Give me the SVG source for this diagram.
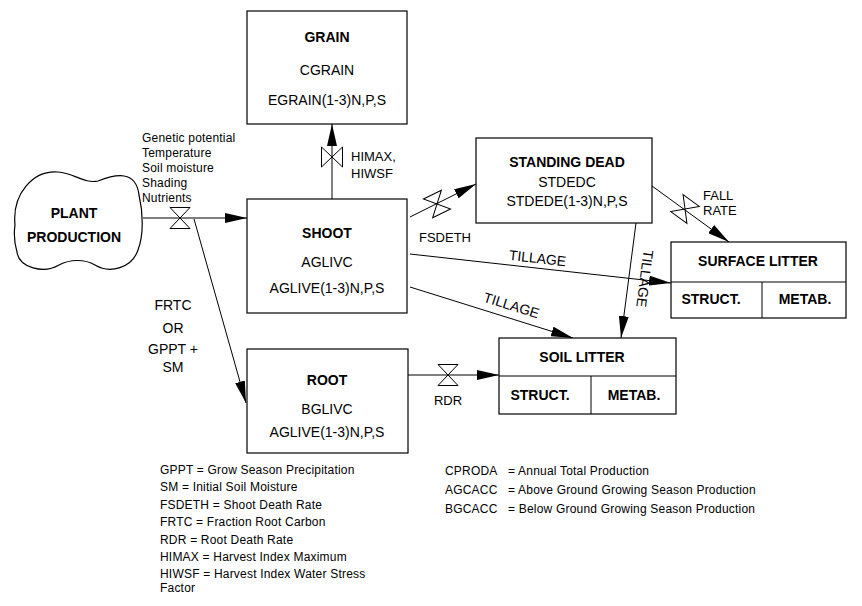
<svg xmlns="http://www.w3.org/2000/svg" width="862" height="606" viewBox="0 0 862 606">
<style>
text{font-family:"Liberation Sans",Arial,sans-serif;fill:#000}
.box{fill:#fff;stroke:#000;stroke-width:1.2}
.t{font-size:14px;font-weight:bold;text-anchor:middle}
.v{font-size:14px;text-anchor:middle}
.lbl{font-size:13px}
.leg{font-size:12px;letter-spacing:0.2px}
.c{fill:none;stroke:#000;stroke-width:1}
.valve{fill:none;stroke:#000;stroke-width:1}
</style>
<defs>
<marker id="ah" viewBox="0 0 22 10" refX="22" refY="5" markerWidth="22" markerHeight="10" orient="auto" markerUnits="userSpaceOnUse"><path d="M0,0 L22,5 L0,10 Z" fill="#000"/></marker>
<path id="valve" d="M-10,-10.5 H10 L-10,10.5 H10 Z"/>
</defs>

<g id="connectors">
<line class="c" x1="143" y1="218" x2="247" y2="218" marker-end="url(#ah)"/>
<line class="c" x1="194" y1="219" x2="246" y2="403" marker-end="url(#ah)"/>
<line class="c" x1="332" y1="199" x2="332" y2="124" marker-end="url(#ah)"/>
<line class="c" x1="410" y1="217" x2="476" y2="184" marker-end="url(#ah)"/>
<line class="c" x1="652" y1="186" x2="729" y2="242" marker-end="url(#ah)"/>
<line class="c" x1="410" y1="254" x2="671" y2="283" marker-end="url(#ah)"/>
<line class="c" x1="410" y1="287" x2="573" y2="338" marker-end="url(#ah)"/>
<line class="c" x1="636" y1="223" x2="621" y2="338" marker-end="url(#ah)"/>
<line class="c" x1="408" y1="375" x2="499" y2="375" marker-end="url(#ah)"/>
<use href="#valve" class="valve" transform="translate(180,218)"/>
<use href="#valve" class="valve" transform="translate(332,157) rotate(90)"/>
<use href="#valve" class="valve" transform="translate(437,204) rotate(-26)"/>
<use href="#valve" class="valve" transform="translate(685,209) rotate(36)"/>
<use href="#valve" class="valve" transform="translate(448,375)"/>
<text class="leg" x="142" y="142">Genetic potential</text>
<text class="leg" x="142" y="157">Temperature</text>
<text class="leg" x="142" y="172">Soil moisture</text>
<text class="leg" x="142" y="187">Shading</text>
<text class="leg" x="142" y="202">Nutrients</text>
<text class="v" x="173" y="310">FRTC</text>
<text class="v" x="173" y="333">OR</text>
<text class="v" x="173" y="354">GPPT +</text>
<text class="v" x="173" y="372">SM</text>
<text class="lbl" x="351" y="161">HIMAX,</text>
<text class="lbl" x="351" y="178">HIWSF</text>
<text class="lbl" x="419" y="242">FSDETH</text>
<text class="lbl" x="703" y="200">FALL</text>
<text class="lbl" x="703" y="215">RATE</text>
<text class="lbl" x="448" y="405" text-anchor="middle">RDR</text>
<text class="v" transform="translate(537,263) rotate(6.4)">TILLAGE</text>
<text class="v" transform="translate(510,310) rotate(17.4)">TILLAGE</text>
<text class="v" transform="translate(640,278) rotate(97.4)">TILLAGE</text>
</g>

<g id="plant-production">
<path class="box" d="M15,225 C12,194 33,170 58,172 C74,173 84,184 98,181 C116,174 136,170 139,195 C143,212 144,234 138,250 C132,268 110,274 95,265 C85,259 70,259 59,265 C44,274 19,268 17,252 C14,242 14,232 15,225 Z"/>
<text class="t" x="74" y="218">PLANT</text>
<text class="t" x="74" y="242">PRODUCTION</text>
</g>

<g id="grain">
<rect class="box" x="247" y="11" width="160" height="113"/>
<text class="t" x="327" y="42">GRAIN</text>
<text class="v" x="327" y="75">CGRAIN</text>
<text class="v" x="327" y="105">EGRAIN(1-3)N,P,S</text>
</g>

<g id="shoot">
<rect class="box" x="247" y="199" width="160" height="114"/>
<text class="t" x="327" y="238">SHOOT</text>
<text class="v" x="327" y="267">AGLIVC</text>
<text class="v" x="327" y="293">AGLIVE(1-3)N,P,S</text>
</g>

<g id="root">
<rect class="box" x="247" y="349" width="161" height="104"/>
<text class="t" x="327" y="385">ROOT</text>
<text class="v" x="327" y="414">BGLIVC</text>
<text class="v" x="327" y="437">AGLIVE(1-3)N,P,S</text>
</g>

<g id="standing-dead">
<rect class="box" x="476" y="138" width="176" height="85"/>
<text class="t" x="567" y="167">STANDING DEAD</text>
<text class="v" x="567" y="187">STDEDC</text>
<text class="v" x="567" y="206">STDEDE(1-3)N,P,S</text>
</g>

<g id="surface-litter">
<rect class="box" x="671" y="242" width="175" height="76"/>
<line class="c" x1="671" y1="282" x2="846" y2="282"/>
<line class="c" x1="762" y1="282" x2="762" y2="318"/>
<text class="t" x="758" y="266">SURFACE LITTER</text>
<text class="t" x="711" y="304">STRUCT.</text>
<text class="t" x="805" y="304">METAB.</text>
</g>

<g id="soil-litter">
<rect class="box" x="499" y="338" width="177" height="76"/>
<line class="c" x1="499" y1="376" x2="676" y2="376"/>
<line class="c" x1="591" y1="376" x2="591" y2="414"/>
<text class="t" x="582" y="362">SOIL LITTER</text>
<text class="t" x="540" y="400">STRUCT.</text>
<text class="t" x="634" y="400">METAB.</text>
</g>

<g id="legend-left">
<text class="leg" x="160" y="474">GPPT = Grow Season Precipitation</text>
<text class="leg" x="160" y="491">SM = Initial Soil Moisture</text>
<text class="leg" x="160" y="509">FSDETH = Shoot Death Rate</text>
<text class="leg" x="160" y="526">FRTC = Fraction Root Carbon</text>
<text class="leg" x="160" y="544">RDR = Root Death Rate</text>
<text class="leg" x="160" y="561">HIMAX = Harvest Index Maximum</text>
<text class="leg" x="160" y="578">HIWSF = Harvest Index Water Stress</text>
<text class="leg" x="160" y="592">Factor</text>
</g>

<g id="legend-right">
<text class="leg" x="445" y="475">CPRODA</text>
<text class="leg" x="508" y="475">= Annual Total Production</text>
<text class="leg" x="445" y="494">AGCACC</text>
<text class="leg" x="508" y="494">= Above Ground Growing Season Production</text>
<text class="leg" x="445" y="513">BGCACC</text>
<text class="leg" x="508" y="513">= Below Ground Growing Season Production</text>
</g>
</svg>
